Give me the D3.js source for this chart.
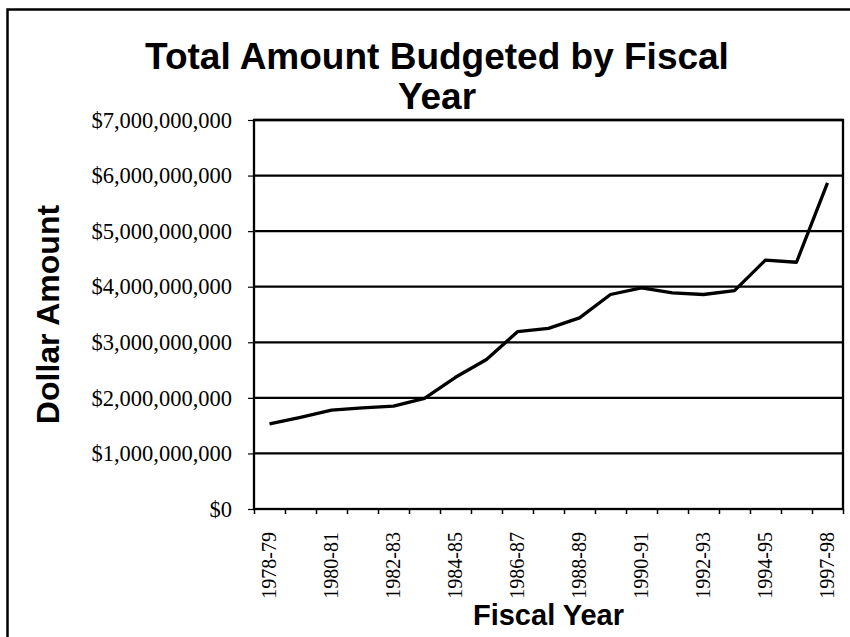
<!DOCTYPE html>
<html>
<head>
<meta charset="utf-8">
<script src="https://cdn.jsdelivr.net/npm/d3@7/dist/d3.min.js"></script>
<style>
  html, body { margin: 0; padding: 0; background: #fff; }
  svg { display: block; }
</style>
</head>
<body>
<svg id="chart" width="850" height="637"></svg>
<script>
// ---- data ----
const fiscalYears = ["1978-79","1979-80","1980-81","1981-82","1982-83","1983-84","1984-85",
  "1985-86","1986-87","1987-88","1988-89","1989-90","1990-91","1991-92","1992-93",
  "1993-94","1994-95","1995-96","1997-98"];
const budgetBillions = [1.53, 1.65, 1.78, 1.82, 1.85, 1.99, 2.37, 2.69, 3.19, 3.25, 3.44,
  3.86, 3.98, 3.89, 3.86, 3.93, 4.48, 4.44, 5.87];
const yTickValues = [0, 1e9, 2e9, 3e9, 4e9, 5e9, 6e9, 7e9];
const shownLabels = ["1978-79","1980-81","1982-83","1984-85","1986-87","1988-89",
  "1990-91","1992-93","1994-95","1997-98"];
const chartTitleLines = ["Total Amount Budgeted by Fiscal", "Year"];
const xTitle = "Fiscal Year";
const yTitle = "Dollar Amount";

// ---- layout ----
const svg = d3.select("#chart");
const plot = { left: 254, right: 843, top: 120, bottom: 509 };
const serif = "'Liberation Serif','Times New Roman',Times,serif";
const sans = "'Liberation Sans',Arial,Helvetica,sans-serif";

// outer frame
svg.append("rect").attr("x", 7.5).attr("y", 9.5).attr("width", 900).attr("height", 700)
  .attr("fill", "none").attr("stroke", "#000").attr("stroke-width", 2.5);

const x = d3.scaleBand().domain(fiscalYears).range([plot.left, plot.right]).paddingInner(0).paddingOuter(0);
const xEdge = d3.scaleLinear().domain([0, fiscalYears.length]).range([plot.left, plot.right]);
const y = d3.scaleLinear().domain([0, 7e9]).range([plot.bottom, plot.top]);

// gridlines
svg.append("g").selectAll("line").data(yTickValues.filter(v => v > 0)).join("line")
  .attr("x1", plot.left).attr("x2", plot.right)
  .attr("y1", d => y(d)).attr("y2", d => y(d))
  .attr("stroke", "#000").attr("stroke-width", 2.3);

// plot border
svg.append("rect").attr("x", plot.left).attr("y", plot.top)
  .attr("width", plot.right - plot.left).attr("height", plot.bottom - plot.top)
  .attr("fill", "none").attr("stroke", "#000").attr("stroke-width", 2.3);

// y axis
const yAxis = svg.append("g").attr("transform", `translate(${plot.left},0)`)
  .call(d3.axisLeft(y).tickValues(yTickValues).tickSize(6).tickPadding(16).tickFormat(d3.format("$,")));
yAxis.select(".domain").remove();
yAxis.selectAll("line").attr("stroke", "#000").attr("stroke-width", 1.2);
yAxis.selectAll("text").attr("font-family", serif).attr("font-size", 22.5).attr("fill", "#000");

// x axis tick marks at category boundaries
const xTicks = svg.append("g").attr("transform", `translate(0,${plot.bottom})`)
  .call(d3.axisBottom(xEdge).tickValues(d3.range(fiscalYears.length + 1)).tickSize(5).tickFormat(""));
xTicks.select(".domain").remove();
xTicks.selectAll("line").attr("stroke", "#000").attr("stroke-width", 1.5);

// x axis labels
const xLab = svg.append("g").attr("transform", `translate(0,${plot.bottom})`)
  .call(d3.axisBottom(x).tickValues(shownLabels).tickSize(0).tickPadding(0));
xLab.select(".domain").remove();
xLab.selectAll("text")
  .attr("font-family", serif).attr("font-size", 20).attr("fill", "#000")
  .attr("text-anchor", "end")
  .attr("transform", "translate(0,23) rotate(-90)")
  .attr("x", 0).attr("y", 0).attr("dy", "0.34em");

// line
const line = d3.line()
  .x((d, i) => x(fiscalYears[i]) + x.bandwidth() / 2)
  .y(d => y(d * 1e9));
svg.append("path").datum(budgetBillions).attr("d", line)
  .attr("fill", "none").attr("stroke", "#000").attr("stroke-width", 3.3)
  .attr("stroke-linejoin", "round");

// titles
svg.append("text").attr("x", 437).attr("y", 69)
  .attr("text-anchor", "middle").attr("font-family", sans).attr("font-weight", "bold")
  .attr("font-size", 37).text(chartTitleLines[0]);
svg.append("text").attr("x", 437).attr("y", 109)
  .attr("text-anchor", "middle").attr("font-family", sans).attr("font-weight", "bold")
  .attr("font-size", 37).text(chartTitleLines[1]);

svg.append("text").attr("x", (plot.left + plot.right) / 2).attr("y", 625)
  .attr("text-anchor", "middle").attr("font-family", sans).attr("font-weight", "bold")
  .attr("font-size", 29).text(xTitle);

svg.append("text").attr("transform", `translate(59,${(plot.top + plot.bottom) / 2}) rotate(-90)`)
  .attr("text-anchor", "middle").attr("font-family", sans).attr("font-weight", "bold")
  .attr("font-size", 32).text(yTitle);
</script>
</body>
</html>
